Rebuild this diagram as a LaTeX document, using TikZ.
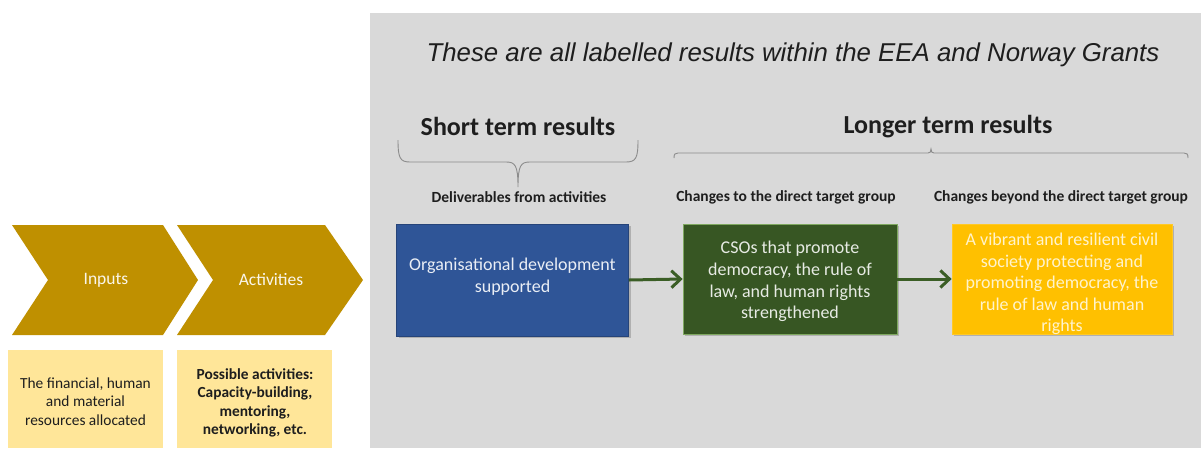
\documentclass[tikz,border=0pt]{standalone}
\usepackage{fontspec}
\setmainfont{Carlito}
\newfontfamily\arialf{Liberation Sans}
\usetikzlibrary{arrows.meta,shadows}
\definecolor{bggray}{HTML}{D9D9D9}
\definecolor{gold}{HTML}{BF9000}
\definecolor{paleyellow}{HTML}{FFE699}
\definecolor{boxblue}{HTML}{2F5597}
\definecolor{boxgreen}{HTML}{375623}
\definecolor{greenedge}{HTML}{7FA860}
\definecolor{boxorange}{HTML}{FFC000}
\definecolor{arrowgreen}{HTML}{3B5E26}
\definecolor{bracegray}{HTML}{8C8C8C}
\definecolor{textdark}{HTML}{1E1E1E}
\tikzset{
  chev/.style={fill=gold, draw=none},
  chevtext/.style={text=white!92!gold, font=\fontsize{17.5}{20}\selectfont},
  softbox/.style={fill=paleyellow, draw=none},
  softtext/.style={text=textdark, align=center, font=\fontsize{15.4}{18.7}\selectfont},
  resbox/.style={draw, line width=0.8pt, minimum width=#1, inner sep=0pt,
     drop shadow={shadow xshift=2pt, shadow yshift=-2pt, opacity=0.35, fill=black!60}},
  restext/.style={align=center, font=\fontsize{18}{21.6}\selectfont},
  heading/.style={text=textdark, font=\bfseries\fontsize{26}{30}\selectfont},
  sublabel/.style={text=textdark, font=\bfseries\fontsize{15.5}{18}\selectfont},
  brace/.style={draw=bracegray, line width=0.9pt},
  flow/.style={draw=arrowgreen, line width=3pt, -{Straight Barb[length=9pt,width=17pt]}},
}
\begin{document}
\begin{tikzpicture}[x=1pt,y=-1pt]
\useasboundingbox (0,0) rectangle (1201,448);
\fill[white] (0,0) rectangle (1201,448);
% gray panel
\fill[bggray] (370,13) rectangle (1201,448);

% chevrons
\path[chev] (12,225) -- (163,225) -- (198,280) -- (163,335) -- (12,335) -- (48,280) -- cycle;
\path[chev] (177,225) -- (325,225) -- (363,280) -- (325,335) -- (177,335) -- (213,280) -- cycle;
\node[chevtext] (inputs) at (106,280) {Inputs};
\node[chevtext] (activities) at (271,280) {Activities};

% pale boxes
\path[softbox] (8,350) rectangle (163,448);
\path[softbox] (177,350) rectangle (332,448);
\node[softtext] (inputsdesc) at (85.5,401.5) {The financial, human\\and material\\resources allocated};
\node[softtext, font=\bfseries\fontsize{15.4}{18.5}\selectfont] (activitiesdesc) at (255,403) {Possible activities:\\Capacity-building,\\mentoring,\\networking, etc.};

% title
\node[text=textdark, font=\arialf\itshape\fontsize{25.8}{30}\selectfont] (title) at (793,55) {These are all labelled results within the EEA and Norway Grants};

% headings
\node[heading] (short) at (518,126) {Short term results};
\node[heading] (longer) at (948,127) {Longer term results};

% braces
\draw[brace] (398,140) .. controls (398,158) and (400,162) .. (410,162) -- (506,162)
   .. controls (515,162) and (518,165) .. (518,187)
   .. controls (518,165) and (521,162) .. (530,162) -- (626,162)
   .. controls (636,162) and (638,158) .. (638,140);
\draw[brace] (674,158) .. controls (674,154) and (675,153) .. (678,153) -- (928,153)
   .. controls (930,153) and (931,152) .. (931,149)
   .. controls (931,152) and (932,153) .. (934,153) -- (1184,153)
   .. controls (1187,153) and (1188,154) .. (1188,158);

% sublabels
\node[sublabel] (deliv) at (519,197) {Deliverables from activities};
\node[sublabel] (direct) at (786,197) {Changes to the direct target group};
\node[sublabel] (beyond) at (1061,197) {Changes beyond the direct target group};

% result boxes
\node[resbox=232pt, minimum height=112pt, fill=boxblue, draw=boxblue!80!black] (b1) at (512.5,280) {};
\node[resbox=214pt, minimum height=110pt, fill=boxgreen, draw=greenedge] (b2) at (790,279) {};
\node[resbox=220pt, minimum height=110pt, fill=boxorange, draw=boxorange!85!white] (b3) at (1062,279) {};

\node[restext, text=white!90!boxblue] (t1) at (512.5,276.5) {Organisational development\\supported};
\node[restext, text=white!88!boxgreen] (t2) at (790,281.5) {CSOs that promote\\democracy, the rule of\\law, and human rights\\strengthened};
\node[restext, text=white!80!boxorange] (t3) at (1062,284) {A vibrant and resilient civil\\society protecting and\\promoting democracy, the\\rule of law and human\\rights};

% arrows
\draw[flow] (b1.east) -- (b2.west);
\draw[flow] (b2.east) -- (b3.west);
\end{tikzpicture}
\end{document}
